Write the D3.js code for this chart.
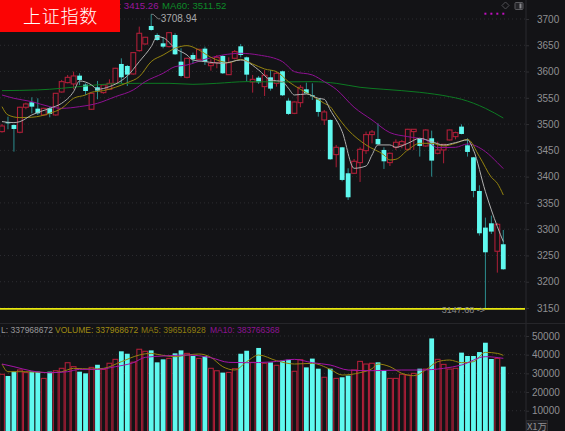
<!DOCTYPE html>
<html>
<head>
<meta charset="utf-8">
<script src="https://cdn.jsdelivr.net/npm/d3@7"></script>
<style>
    html, body { margin: 0; padding: 0; background: #131316; overflow: hidden; }
    svg { display: block; font-family: "Liberation Sans", Arial, sans-serif; }
</style>
</head>
<body>
<svg id="chart" width="565" height="431"></svg>
<script>
// candles
const opens = [3485.7,3504,3498.3,3484.4,3532,3541.5,3529.4,3517.4,3530,3517.4,3561.1,3578.9,3576.4,3592.2,3575.1,3528.2,3570,3559.9,3566.2,3577.6,3614.4,3610.6,3595.4,3639.8,3652.5,3686.7,3669.6,3653.7,3647.4,3669.6,3618.9,3589,3631.5,3623.3,3643.6,3611.2,3617,3629.6,3594.1,3625.2,3648,3627.1,3580.2,3588.4,3571.3,3589,3577.6,3600.5,3544.6,3520.5,3540.8,3566.2,3554.8,3547.2,3507.9,3507.9,3441.9,3455.8,3406.4,3406.4,3426.7,3449.5,3480,3471.7,3450.8,3426.7,3455.8,3460.3,3452,3485.7,3471.7,3458.4,3473,3444.4,3450.8,3469.8,3476.1,3495.2,3459.6,3436.8,3372.7,3303,3311.2,3258,3271.3];
const closes = [3496.4,3501.5,3490.7,3532,3538.3,3533.2,3520.5,3530,3519.3,3558.6,3580.8,3589,3591.6,3584,3563,3558.6,3563.7,3574.5,3577.6,3606.2,3589,3594.1,3636,3672.8,3665.2,3679.1,3660,3647.4,3674,3632.8,3591.6,3625.2,3623.3,3642.3,3618.2,3615.7,3627.1,3596.7,3617,3637.9,3631.5,3594.1,3585.2,3579.5,3592.9,3567.5,3596.7,3554.8,3519.3,3542.1,3570,3558.6,3553.5,3523.1,3523.1,3433,3455.8,3393.7,3360.7,3429.2,3452,3480,3485,3461.5,3429.2,3444.4,3465.4,3466.6,3490.1,3490.1,3458.4,3488.8,3430.5,3450.8,3461.5,3488.8,3483.8,3481.2,3447,3372.7,3292.2,3256,3295.4,3309.3,3223.7];
const highs = [3500.2,3514.2,3499.6,3533,3540.8,3551,3549.1,3531,3533.2,3559,3584,3593.5,3599.8,3596.7,3577.6,3559.9,3582.1,3576,3585.2,3607,3625.2,3612.5,3637,3685.5,3666,3708.94,3672.8,3665.2,3675,3672.8,3644.2,3626,3636,3643,3647.4,3623.3,3631.5,3631.5,3627.1,3641,3652.5,3628.4,3593.5,3591.6,3603,3603,3599.8,3601.7,3549.1,3543,3574.5,3578.9,3577.6,3548.5,3526.9,3509,3460.3,3456.5,3415.9,3433.6,3455.8,3485.7,3488.8,3501.5,3455.8,3445.7,3471,3469.8,3491,3490.5,3472.5,3490,3487.6,3466.6,3462,3489.5,3485.7,3499.6,3473,3437.5,3383.5,3322,3325.8,3311.2,3298.5];
const lows = [3483.8,3490.1,3447.6,3482.5,3528.2,3520.5,3517.4,3516,3512.9,3516,3559.9,3577.6,3566.2,3574.5,3555.4,3527,3547.2,3558,3565,3576,3577.6,3572.5,3594,3637.9,3651,3677.8,3658.8,3644.2,3646,3631.5,3589,3587,3615.7,3622,3612.5,3601.7,3606.2,3595.4,3593.5,3623.3,3627.1,3580.8,3559.9,3576.4,3553.5,3563.7,3571.3,3553.5,3517.4,3519,3532,3557.3,3545.9,3514.2,3498.3,3432,3417.8,3391.1,3355.6,3405.1,3389.9,3443.2,3463.4,3460.5,3414.6,3420.3,3450.8,3454,3449.5,3450.8,3438.1,3457,3400,3442.5,3425.4,3469,3471,3480.5,3438.1,3360.7,3287.8,3147.68,3290.9,3217.3,3223];
const volumes = [29500,28600,30900,31800,30400,30900,30900,27300,30900,31400,32700,35700,33600,30900,30000,33200,34600,32100,35400,37500,41800,40500,36000,42900,41800,42300,35900,37500,38000,40700,42300,40700,39300,38000,39300,32700,31400,30400,30500,32500,40500,42100,35900,43600,35400,35900,34300,36800,37300,31100,37300,33200,37900,32500,27900,32500,27300,27900,28800,31800,36400,35000,35400,35900,31400,27300,27300,29500,29100,30000,32500,32300,48700,37500,34800,32300,32700,41100,39300,39300,41400,46400,37700,38000,33600];

// moving averages: [candle index, value]
const ma5 = [[0,3504.7],[2,3502.8],[3,3504.7],[5,3517.4],[8,3530.1],[10,3539.6],[12,3561.8],[13,3582.1],[15,3574.5],[16,3566.2],[18,3571.3],[20,3582.7],[21,3591.6],[23,3618.9],[25,3647.4],[26,3666.4],[27,3664.5],[29,3644.2],[31,3631.5],[32,3622],[34,3618.9],[37,3615.7],[40,3622],[41,3618.9],[43,3603],[45,3584],[47,3580.8],[48,3568.1],[49,3555.4],[51,3557.3],[53,3549.1],[54,3547.2],[55,3526.9],[57,3485.7],[59,3415.9],[61,3420.3],[62,3441.2],[63,3460.3],[65,3460.3],[66,3455.8],[68,3463.4],[70,3473],[72,3466.6],[74,3460.3],[76,3464.7],[78,3469.8],[79,3450.8],[81,3371.5],[82,3336.6],[83,3304.9],[84,3276.3]];
const ma10 = [[0,3533.2],[1,3517.4],[3,3512.3],[5,3513],[8,3520.5],[10,3530],[12,3549.1],[14,3555.4],[15,3560.5],[17,3563.7],[19,3570],[21,3578.9],[23,3590.3],[25,3618.9],[27,3631.5],[29,3644.2],[31,3649.3],[33,3641],[35,3627.1],[38,3617],[40,3623.3],[42,3614.4],[44,3604.9],[46,3599.8],[48,3580.8],[50,3566.2],[52,3553.5],[54,3539.6],[55,3533.2],[56,3517.4],[58,3488.8],[61,3460.3],[64,3441.2],[65,3431.7],[66,3433],[68,3450.8],[70,3463.4],[72,3463.4],[74,3458.4],[76,3463.4],[78,3471],[80,3438.1],[82,3398.8],[83,3387.3],[84,3365.1]];
const ma20 = [[0,3555.4],[2,3549.1],[5,3542.7],[8,3533.2],[10,3530],[13,3533.2],[16,3539.6],[19,3552.2],[22,3565],[24,3580.8],[27,3596.7],[29,3609.3],[31,3612.5],[34,3623.3],[37,3631.5],[40,3634.7],[43,3631.5],[47,3618.9],[49,3599.8],[52,3593.5],[54,3580.8],[56,3566.2],[59,3532],[62,3507.9],[65,3483.8],[68,3476.1],[71,3469.8],[73,3455.2],[76,3455.8],[78,3462.2],[81,3447.6],[83,3426.7],[84,3415.26]];
const ma60 = [[0,3563.7],[6,3565],[10,3568.1],[14,3572.5],[18,3576.4],[23,3577.6],[28,3577.6],[32,3575.7],[36,3577.6],[41,3580.8],[47,3580.2],[52,3580.8],[56,3577.6],[60,3570],[64,3566.2],[70,3560.5],[75,3552.2],[77,3547.2],[81,3530],[84,3511.52]];
const volMa5 = [[0,35000],[1,30890],[4,30890],[8,30360],[10,30890],[12,32680],[15,32320],[17,32680],[20,36250],[23,39820],[25,40710],[26,40180],[29,38930],[31,39820],[33,40360],[35,38570],[37,33570],[39,31790],[41,36250],[43,39820],[46,36790],[49,35000],[52,35360],[55,32140],[57,29110],[60,30360],[62,32500],[63,35000],[65,33570],[67,30000],[69,28750],[71,31790],[73,36250],[75,37140],[77,35710],[79,36250],[81,41250],[83,40710],[84,39640]];
const volMa10 = [[0,35000],[2,33570],[5,31250],[8,30360],[11,30890],[13,32140],[16,32140],[19,33570],[22,35710],[24,38570],[27,39290],[31,39820],[35,38390],[38,35890],[41,35710],[45,36070],[49,37500],[52,35710],[55,34460],[58,31790],[62,31430],[67,31790],[70,31790],[74,32680],[77,34460],[81,38930],[84,38040]];

const priceTicks = [3150,3200,3250,3300,3350,3400,3450,3500,3550,3600,3650,3700];
const volumeTicks = [10000,20000,30000,40000,50000];
const dotIndexes = [81,82,83,84];
const lowestPrice = 3147.68;
const highestPrice = 3708.94;

const width = 565;
const height = 431;
const axisX = 526;
const cyan = '#5ff9ef';
const red = '#ad1f38';
const bg = '#131316';

const svg = d3.select('#chart');

const x = d3.scaleLinear().domain([0, 84]).range([2, 503.3]);
const yPrice = d3.scaleLinear().domain([3150, 3700]).range([308, 19]);
const yVol = d3.scaleLinear().domain([0, 50000]).range([429.4, 336]);

svg.append('rect').attr('width', width).attr('height', height).attr('fill', bg);

// axes and the dotted grid
const axisPrice = d3.axisRight(yPrice).tickValues(priceTicks).tickSize(3).tickPadding(8).tickFormat(d3.format('d'));
const axisVol = d3.axisRight(yVol).tickValues(volumeTicks).tickSize(3).tickPadding(3).tickFormat(d3.format('d'));

[[axisPrice, yPrice, priceTicks], [axisVol, yVol, volumeTicks]].forEach(([axis, scale, ticks]) => {
    svg.append('g')
        .selectAll('line')
        .data(ticks)
        .join('line')
        .attr('x1', 0)
        .attr('x2', axisX)
        .attr('y1', d => scale(d))
        .attr('y2', d => scale(d))
        .attr('stroke', '#343438')
        .attr('stroke-width', 0.8)
        .attr('stroke-dasharray', '1,3');

    const g = svg.append('g')
        .attr('transform', `translate(${axisX},0)`)
        .call(axis);
    g.select('.domain').remove();
    g.selectAll('line').attr('stroke', '#303034');
    g.selectAll('text')
        .attr('fill', '#8f8f92')
        .attr('font-size', '10px')
        .attr('font-family', '"Liberation Sans", Arial, sans-serif');
});

svg.append('line').attr('x1', axisX).attr('x2', axisX).attr('y1', 0).attr('y2', height).attr('stroke', '#2b2b2f');
svg.append('line').attr('x1', 0).attr('x2', width).attr('y1', 323.5).attr('y2', 323.5).attr('stroke', '#26262a');

const candles = d3.range(opens.length).map(i => ({
    i, open: opens[i], close: closes[i], high: highs[i], low: lows[i], volume: volumes[i],
    up: closes[i] >= opens[i]
}));

// price wicks
svg.append('g')
    .selectAll('line')
    .data(candles)
    .join('line')
    .attr('x1', d => x(d.i))
    .attr('x2', d => x(d.i))
    .attr('y1', d => yPrice(d.high))
    .attr('y2', d => yPrice(d.low))
    .attr('stroke', d => d.up ? red : '#2c8f90')
    .attr('stroke-width', 1);

// price bodies, up days are hollow
svg.append('g')
    .selectAll('rect')
    .data(candles)
    .join('rect')
    .attr('x', d => x(d.i) - 2.4)
    .attr('width', 4.8)
    .attr('y', d => yPrice(Math.max(d.open, d.close)))
    .attr('height', d => Math.max(1, Math.abs(yPrice(d.open) - yPrice(d.close))))
    .attr('fill', d => d.up ? bg : cyan)
    .attr('stroke', d => d.up ? red : 'none')
    .attr('stroke-width', 1.1);

// volume bars
svg.append('g')
    .selectAll('rect')
    .data(candles)
    .join('rect')
    .attr('x', d => x(d.i) - 2.4)
    .attr('width', 4.8)
    .attr('y', d => yVol(d.volume))
    .attr('height', d => height + 2 - yVol(d.volume))
    .attr('fill', d => d.up ? bg : cyan)
    .attr('stroke', d => d.up ? red : 'none')
    .attr('stroke-width', 1.1);

const drawLine = (points, yScale, color) => {
    const line = d3.line()
        .x(d => x(d[0]))
        .y(d => yScale(d[1]))
        .curve(d3.curveMonotoneX);
    svg.append('path')
        .datum(points)
        .attr('fill', 'none')
        .attr('stroke', color)
        .attr('stroke-width', 1)
        .attr('d', line);
};

drawLine(ma60, yPrice, '#0c7a22');
drawLine(ma20, yPrice, '#8e1092');
drawLine(ma10, yPrice, '#94830f');
drawLine(ma5, yPrice, '#b0b0b0');
drawLine(volMa5, yVol, '#94830f');
drawLine(volMa10, yVol, '#a514a8');

// lowest price line and its label
svg.append('line')
    .attr('x1', 0)
    .attr('x2', axisX - 1)
    .attr('y1', yPrice(lowestPrice) - 0.3)
    .attr('y2', yPrice(lowestPrice) - 0.3)
    .attr('stroke', '#e8e80e')
    .attr('stroke-width', 1.8);

svg.append('text')
    .attr('x', 485)
    .attr('y', yPrice(lowestPrice) + 3.5)
    .attr('text-anchor', 'end')
    .attr('font-size', '9px')
    .attr('fill', '#8a8a8c')
    .text(lowestPrice.toFixed(2) + ' ->');

// highest price leader and label
const topX = x(25);
const topY = yPrice(highestPrice);
svg.append('path')
    .attr('d', `M${topX},${topY}h2l5,4.5h2`)
    .attr('fill', 'none')
    .attr('stroke', '#9a9a9c')
    .attr('stroke-width', 0.8);
svg.append('text')
    .attr('x', topX + 9.5)
    .attr('y', topY + 8)
    .attr('font-size', '10px')
    .attr('fill', '#a8a8aa')
    .text(highestPrice.toFixed(2));

// top legend, the red title covers the start of it
svg.append('text').attr('x', 158.5).attr('y', 9).attr('text-anchor', 'end')
    .attr('font-size', '9.6px').attr('fill', '#9a169c').text('MA20: 3415.26');
svg.append('text').attr('x', 162).attr('y', 9)
    .attr('font-size', '9.6px').attr('fill', '#0d8a28').text('MA60: 3511.52');

// volume legend
const volumeLegend = [
    ['L: 337968672', '#98989a', 1],
    ['VOLUME: 337968672', '#a08c12', 55],
    ['MA5: 396516928', '#8f7d10', 141],
    ['MA10: 383766368', '#8e1492', 210]
];
svg.append('g')
    .selectAll('text')
    .data(volumeLegend)
    .join('text')
    .attr('x', d => d[2])
    .attr('y', 332.5)
    .attr('font-size', '8.5px')
    .attr('fill', d => d[1])
    .text(d => d[0]);

// magenta dots in the top right
svg.append('g')
    .selectAll('rect')
    .data(dotIndexes)
    .join('rect')
    .attr('x', d => x(d) - 1)
    .attr('y', 12.7)
    .attr('width', 2)
    .attr('height', 2)
    .attr('fill', '#c010c0');

// top right icons
svg.append('rect')
    .attr('x', 503)
    .attr('y', 3)
    .attr('width', 5)
    .attr('height', 5)
    .attr('transform', 'rotate(45 505.5 5.5)')
    .attr('fill', 'none')
    .attr('stroke', '#5a5a5e')
    .attr('stroke-width', 0.8);
svg.append('rect')
    .attr('x', 515)
    .attr('y', 2.5)
    .attr('width', 8)
    .attr('height', 7)
    .attr('rx', 1)
    .attr('fill', '#242428')
    .attr('stroke', '#5a5a5e')
    .attr('stroke-width', 1);
svg.append('rect').attr('x', 519.5).attr('y', 3.5).attr('width', 2).attr('height', 5).attr('fill', '#8a8a8e');

// unit box
svg.append('rect')
    .attr('x', 526.5)
    .attr('y', 420.5)
    .attr('width', 21)
    .attr('height', 12)
    .attr('fill', '#1f1f23')
    .attr('stroke', '#2e2e32');
svg.append('text')
    .attr('x', 537)
    .attr('y', 429.5)
    .attr('text-anchor', 'middle')
    .attr('font-size', '9.5px')
    .attr('font-family', '"Noto Sans CJK SC", sans-serif')
    .attr('fill', '#8f8f92')
    .text('X1万');

// title box
svg.append('rect').attr('x', 0).attr('y', 0).attr('width', 120).attr('height', 32).attr('fill', '#fb0404');
svg.append('text')
    .attr('x', 60.5)
    .attr('y', 23)
    .attr('text-anchor', 'middle')
    .attr('font-size', '18px')
    .attr('letter-spacing', '0.8px')
    .attr('font-family', '"Noto Sans CJK SC", sans-serif')
    .attr('font-weight', 300)
    .attr('fill', '#ffffff')
    .text('上证指数');
</script>
</body>
</html>
